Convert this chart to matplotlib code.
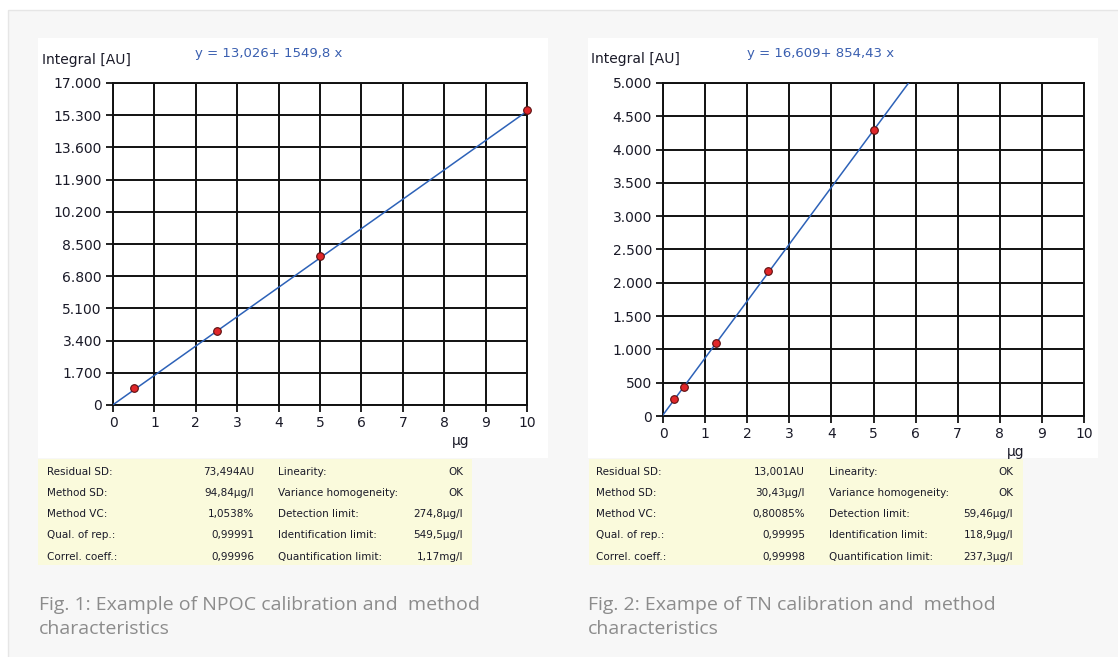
import matplotlib
matplotlib.use("Agg")

import matplotlib.pyplot as plt
import numpy as np
from matplotlib.patches import Rectangle


W, H = 1118, 657

# NPOC calibration (Fig. 1)
npoc_x = [0.5, 2.5, 5.0, 10.0]
npoc_y = [900, 3900, 7850, 15550]
npoc_intercept = 13.026
npoc_slope = 1549.8
npoc_yticks = [0, 1700, 3400, 5100, 6800, 8500, 10200, 11900, 13600, 15300, 17000]
npoc_eq = "y = 13,026+ 1549,8 x"
npoc_table = [
    ("Residual SD:", "73,494AU", "Linearity:", "OK"),
    ("Method SD:", "94,84µg/l", "Variance homogeneity:", "OK"),
    ("Method VC:", "1,0538%", "Detection limit:", "274,8µg/l"),
    ("Qual. of rep.:", "0,99991", "Identification limit:", "549,5µg/l"),
    ("Correl. coeff.:", "0,99996", "Quantification limit:", "1,17mg/l"),
]
npoc_caption = "Fig. 1: Example of NPOC calibration and  method\ncharacteristics"

# TN calibration (Fig. 2)
tn_x = [0.25, 0.5, 1.25, 2.5, 5.0]
tn_y = [250, 430, 1090, 2180, 4290]
tn_intercept = 16.609
tn_slope = 854.43
tn_yticks = [0, 500, 1000, 1500, 2000, 2500, 3000, 3500, 4000, 4500, 5000]
tn_eq = "y = 16,609+ 854,43 x"
tn_table = [
    ("Residual SD:", "13,001AU", "Linearity:", "OK"),
    ("Method SD:", "30,43µg/l", "Variance homogeneity:", "OK"),
    ("Method VC:", "0,80085%", "Detection limit:", "59,46µg/l"),
    ("Qual. of rep.:", "0,99995", "Identification limit:", "118,9µg/l"),
    ("Correl. coeff.:", "0,99998", "Quantification limit:", "237,3µg/l"),
]
tn_caption = "Fig. 2: Exampe of TN calibration and  method\ncharacteristics"

x_ticks = list(range(0, 11))

TEXT = "#1a1a28"
EQ_BLUE = "#3a5fb0"
LINE_BLUE = "#2d62b8"
GRID = "#111111"


def fx(px):
    return px / W


def fy(py):
    return 1 - py / H


def rect(fig, x0, y0, x1, y1, color, edge="none"):
    # zorder below the axes, figure patches are drawn after axes otherwise
    fig.patches.append(Rectangle(
        (fx(x0), fy(y1)), fx(x1) - fx(x0), fy(y0) - fy(y1),
        transform=fig.transFigure, facecolor=color,
        edgecolor=edge, linewidth=1, zorder=-5
    ))


def fmt(v):
    return f"{v:,}".replace(",", ".")


def draw_chart(fig, box, xs, ys, intercept, slope, yticks, eq, eq_px, ylab_px, mu_px):
    x0, y0, x1, y1 = box
    ax = fig.add_axes([fx(x0), fy(y1), fx(x1) - fx(x0), fy(y0) - fy(y1)])
    ax.set_facecolor("white")

    # regression line, clipped by the axes
    lx = np.array([0, 10])
    ax.plot(lx, intercept + slope * lx, color=LINE_BLUE, lw=1.1, zorder=3)

    ax.plot(xs, ys, "o", ms=5.5, mfc="#e0262a", mec="#5a1010", mew=0.8, zorder=4,
            clip_on=False)

    ax.set_xlim(0, 10)
    ax.set_ylim(yticks[0], yticks[-1])
    ax.set_xticks(x_ticks)
    ax.set_yticks(yticks)
    ax.set_yticklabels([fmt(t) for t in yticks])
    ax.grid(True, color=GRID, lw=1.4)
    ax.set_axisbelow(True)
    for s in ax.spines.values():
        s.set_color(GRID)
        s.set_linewidth(1.4)
    ax.tick_params(length=5, width=1.3, color=GRID, labelsize=10,
                   labelcolor=TEXT, pad=3)

    fig.text(fx(ylab_px[0]), fy(ylab_px[1]), "Integral [AU]", fontsize=10,
             color=TEXT, va="center", ha="left")
    fig.text(fx(eq_px[0]), fy(eq_px[1]), eq, fontsize=9.5, color=EQ_BLUE,
             va="center", ha="left")
    fig.text(fx(mu_px[0]), fy(mu_px[1]), "µg", fontsize=10, color=TEXT,
             va="center", ha="left")


def draw_table(fig, rows, left, val_right, lab2_left, val2_right, row_y):
    for (a, b, c, d), y in zip(rows, row_y):
        fig.text(fx(left), fy(y), a, fontsize=7.5, color=TEXT, va="center", ha="left")
        fig.text(fx(val_right), fy(y), b, fontsize=7.5, color=TEXT, va="center", ha="right")
        fig.text(fx(lab2_left), fy(y), c, fontsize=7.5, color=TEXT, va="center", ha="left")
        fig.text(fx(val2_right), fy(y), d, fontsize=7.5, color=TEXT, va="center", ha="right")


fig = plt.figure(figsize=(W / 100, H / 100), dpi=100, facecolor="white")

# outer grey panel
rect(fig, 8, 10, W + 2, H + 2, "#f7f7f7", edge="#e6e6e6")

# white chart boxes
rect(fig, 38, 38, 548, 458, "white")
rect(fig, 588, 38, 1098, 458, "white")

# yellow tables
rect(fig, 38, 459, 472, 565, "#fafadc")
rect(fig, 589, 459, 1023, 565, "#fafadc")

draw_chart(fig, (113, 83, 527, 405), npoc_x, npoc_y, npoc_intercept, npoc_slope,
           npoc_yticks, npoc_eq, (195, 54), (42, 60), (452, 441))
draw_chart(fig, (663, 83, 1084, 416), tn_x, tn_y, tn_intercept, tn_slope,
           tn_yticks, tn_eq, (747, 53), (591, 59), (1007, 452))

row_y = [472, 493, 514, 535, 557]
draw_table(fig, npoc_table, 47, 254, 278, 463, row_y)
draw_table(fig, tn_table, 596, 805, 829, 1013, row_y)

fig.text(fx(39), fy(617), npoc_caption, fontsize=14, color="#8c8c8c",
         family="Open Sans", va="center", ha="left", linespacing=1.5)
fig.text(fx(588), fy(617), tn_caption, fontsize=14, color="#8c8c8c",
         family="Open Sans", va="center", ha="left", linespacing=1.5)

fig.savefig("out.png", dpi=100, facecolor=fig.get_facecolor())
plt.close(fig)
